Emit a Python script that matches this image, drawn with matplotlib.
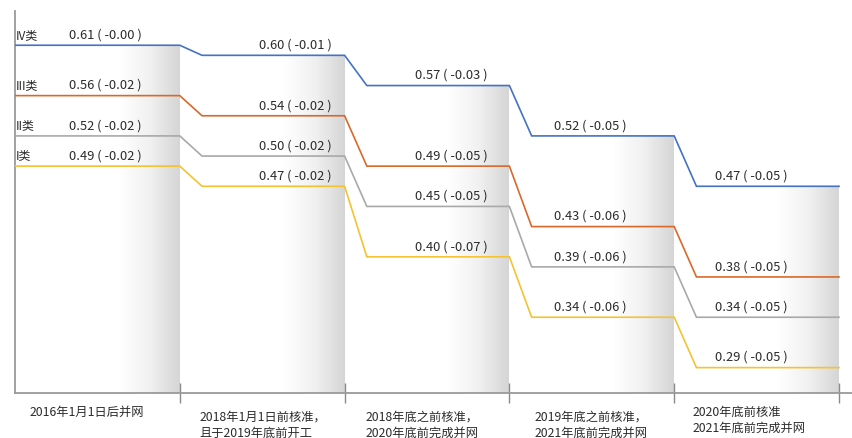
import numpy as np
import matplotlib
matplotlib.use("Agg")
import matplotlib.pyplot as plt
from matplotlib.colors import LinearSegmentedColormap

plt.rcParams['font.family'] = ['Noto Sans CJK SC', 'DejaVu Sans']

# Periods (x-axis categories)
periods = [
    "2016年1月1日后并网",
    "2018年1月1日前核准，\n且于2019年底前开工",
    "2018年底之前核准，\n2020年底前完成并网",
    "2019年底之前核准，\n2021年底前完成并网",
    "2020年底前核准\n2021年底前完成并网",
]

# Resource classes and their benchmark prices per period
classes = ["IV类", "III类", "II类", "I类"]
price_iv = [0.61, 0.60, 0.57, 0.52, 0.47]
price_iii = [0.56, 0.54, 0.49, 0.43, 0.38]
price_ii = [0.52, 0.50, 0.45, 0.39, 0.34]
price_i = [0.49, 0.47, 0.40, 0.34, 0.29]

# Change versus the previous period
change_iv = [-0.00, -0.01, -0.03, -0.05, -0.05]
change_iii = [-0.02, -0.02, -0.05, -0.06, -0.05]
change_ii = [-0.02, -0.02, -0.05, -0.06, -0.05]
change_i = [-0.02, -0.02, -0.07, -0.06, -0.05]

series = [
    (classes[0], price_iv, change_iv, "#4472C4"),
    (classes[1], price_iii, change_iii, "#D9692B"),
    (classes[2], price_ii, change_ii, "#A9A9A9"),
    (classes[3], price_i, change_i, "#F5C232"),
]

# Layout
slope_w = 0.135                              # width of the step transition
label_pos = [0.55, 1.70, 2.645, 3.49, 4.47]  # value-label centres
name_pos = [0.09, 1.12, 2.13, 3.155, 4.11]   # period-label left edges
name_top = [-0.032, -0.043, -0.043, -0.043, -0.030]
shade_w = 0.37

fig = plt.figure(figsize=(8.53, 4.39), dpi=100)
ax = fig.add_axes([15 / 853, 45 / 439, 838 / 853, 382 / 439])
ax.set_xlim(0, 5.085)
ax.set_ylim(0.2648, 0.644)

n = len(periods)

# Shaded columns at the right side of each period, under the top line
cmap = LinearSegmentedColormap.from_list("shade", ["#ffffff", "#f1f1f1", "#d5d5d5"])
grad = np.linspace(0, 1, 256).reshape(1, -1)
for i in range(n):
    ax.imshow(grad, cmap=cmap, aspect="auto", interpolation="bilinear",
              extent=[i + 1 - shade_w, i + 1, ax.get_ylim()[0], price_iv[i]],
              zorder=0)

# Step lines with sloped transitions
for name, vals, chg, color in series:
    xs, ys = [0.0], [vals[0]]
    for i in range(n):
        if i > 0:
            xs.append(i + slope_w)
            ys.append(vals[i])
        xs.append(i + 1)
        ys.append(vals[i])
    ax.plot(xs, ys, color=color, lw=1.2, zorder=3, solid_joinstyle="miter")
    for i in range(n):
        ax.annotate(f"{vals[i]:.2f} ( {chg[i]:.2f} )", (label_pos[i], vals[i]),
                    xytext=(0, 8), textcoords="offset points",
                    ha="center", va="center", fontsize=9.3, color="#2b2b2b",
                    zorder=4)
    ax.annotate(name, (0.004, vals[0]), xytext=(0, 8), textcoords="offset points",
                ha="left", va="center", fontsize=8.6, color="#2b2b2b", zorder=4)

# Axes styling
for side in ("top", "right"):
    ax.spines[side].set_visible(False)
for side in ("left", "bottom"):
    ax.spines[side].set_color("#9a9a9a")
    ax.spines[side].set_linewidth(1.3)
ax.set_yticks([])
ax.set_xticks(np.arange(1, n + 1))
ax.set_xticklabels([])
ax.tick_params(axis="x", direction="inout", length=14, width=1.0, color="#8a8a8a")
ax.patch.set_alpha(0)

for i, label in enumerate(periods):
    ax.text(name_pos[i], name_top[i], label, transform=ax.get_xaxis_transform(),
            ha="left", va="top", fontsize=8.8, color="#2b2b2b",
            linespacing=1.3)

fig.savefig("out.png", dpi=100)
